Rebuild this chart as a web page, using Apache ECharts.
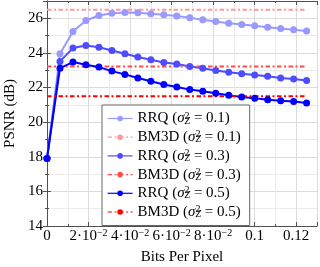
<!DOCTYPE html>
<html>
<head>
<meta charset="utf-8">
<script src="https://cdn.jsdelivr.net/npm/echarts@6/dist/echarts.min.js"></script>
<style>html,body{margin:0;padding:0;background:#fff;}#c{width:320px;height:267px;}</style>
</head>
<body>
<div id="c"></div>
<script>
// ---- data ----
const bits = [0, 0.00625, 0.0125, 0.01875, 0.025, 0.03125, 0.0375, 0.04375, 0.05, 0.05625, 0.0625, 0.06875, 0.075, 0.08125, 0.0875, 0.09375, 0.1, 0.10625, 0.1125, 0.11875, 0.125];
const rrq01 = [17.9, 23.95, 25.24, 25.87, 26.16, 26.29, 26.33, 26.32, 26.26, 26.20, 26.14, 26.03, 25.91, 25.82, 25.72, 25.64, 25.57, 25.49, 25.41, 25.34, 25.26];
const rrq03 = [17.9, 23.51, 24.28, 24.43, 24.33, 24.14, 23.95, 23.76, 23.61, 23.45, 23.36, 23.22, 23.11, 22.99, 22.89, 22.80, 22.72, 22.65, 22.55, 22.49, 22.41];
const rrq05 = [17.9, 23.12, 23.47, 23.32, 23.18, 22.95, 22.76, 22.55, 22.36, 22.18, 22.03, 21.88, 21.78, 21.67, 21.55, 21.45, 21.38, 21.30, 21.24, 21.19, 21.11];
const bm3d01 = 26.5;
const bm3d03 = 23.22;
const bm3d05 = 21.5;
const bm3dRange = [0, 0.125];
const sigmas = ['0.1', '0.3', '0.5'];
const xTickText = ['0', '2·10{e|−2}', '4·10{e|−2}', '6·10{e|−2}', '8·10{e|−2}', '0.1', '0.12'];
const yTickText = ['14', '16', '18', '20', '22', '24', '26'];

const FONT = 'Liberation Serif';
const rrqColors = ['#9999ff', '#4d4dff', '#0000ff'];
const bmColors = ['#ff9999', '#ff4d4d', '#ff0000'];

function zip(xs, ys) { return xs.map((x, i) => [x, ys[i]]); }
const rrqData = [rrq01, rrq03, rrq05];
const bmVals = [bm3d01, bm3d03, bm3d05];

const series = [];
const legendNames = [];
for (let k = 0; k < 3; k++) {
  const rn = 'RRQ ' + sigmas[k];
  const bn = 'BM3D ' + sigmas[k];
  legendNames.push(rn, bn);
  series.push({
    name: rn, type: 'line', data: zip(bits, rrqData[k]),
    symbol: 'circle', symbolSize: 7, showSymbol: true,
    lineStyle: { color: rrqColors[k], width: 2 },
    itemStyle: { color: rrqColors[k] },
    animation: false
  });
  series.push({
    name: bn, type: 'line', data: bm3dRange.map(x => [x, bmVals[k]]),
    symbol: 'none', showSymbol: false,
    lineStyle: { color: bmColors[k], width: 2, type: [4.5, 2.5, 2, 2.5] },
    itemStyle: { color: bmColors[k] },
    animation: false
  });
}

const axisCommonX = { type: 'value', min: 0, max: 0.13, interval: 0.02 };
const axisCommonY = { type: 'value', min: 14, max: 27, interval: 2 };
const AX = '#505050';

const chart = echarts.init(document.getElementById('c'), null, { renderer: 'canvas' });
chart.setOption({
  animation: false,
  backgroundColor: '#fff',
  grid: { left: 47, right: 3, top: 1, bottom: 41, containLabel: false, outerBoundsMode: 'none' },
  xAxis: [
    Object.assign({}, axisCommonX, {
      position: 'bottom',
      name: 'Bits Per Pixel', nameLocation: 'middle', nameGap: 23.5,
      nameTextStyle: { fontFamily: FONT, fontSize: 15, color: '#000' },
      axisLine: { show: true, lineStyle: { color: AX, width: 1 } },
      axisTick: { show: true, inside: true, length: 4, lineStyle: { color: AX } },
      minorTick: { show: true, splitNumber: 2, length: 2, lineStyle: { color: AX } },
      splitLine: { show: true, lineStyle: { color: '#dcdcdc', width: 1 } },
      minorSplitLine: { show: true, lineStyle: { color: '#ebebeb', width: 1 } },
      axisLabel: {
        show: true, margin: 2, fontFamily: FONT, fontSize: 15, color: '#000', lineHeight: 17,
        showMaxLabel: false, hideOverlap: false,
        formatter: function (v, i) { return xTickText[Math.round(v / 0.02)]; },
        rich: { e: { fontFamily: FONT, fontSize: 10, lineHeight: 10, verticalAlign: 'top', color: '#000' } }
      }
    }),
    Object.assign({}, axisCommonX, {
      position: 'top',
      axisLine: { show: true, lineStyle: { color: AX, width: 1 } },
      axisTick: { show: true, inside: true, length: 4, lineStyle: { color: AX } },
      minorTick: { show: true, splitNumber: 2, length: 2, lineStyle: { color: AX } },
      splitLine: { show: false },
      axisLabel: { show: false }
    })
  ],
  yAxis: [
    Object.assign({}, axisCommonY, {
      position: 'left',
      name: 'PSNR (dB)', nameLocation: 'middle', nameGap: 27.5, nameRotate: 90,
      nameTextStyle: { fontFamily: FONT, fontSize: 15, color: '#000' },
      axisLine: { show: true, lineStyle: { color: AX, width: 1 } },
      axisTick: { show: true, inside: true, length: 4, lineStyle: { color: AX } },
      minorTick: { show: true, splitNumber: 2, length: 2, lineStyle: { color: AX } },
      splitLine: { show: true, lineStyle: { color: '#dcdcdc', width: 1 } },
      minorSplitLine: { show: true, lineStyle: { color: '#ebebeb', width: 1 } },
      axisLabel: {
        show: true, margin: 4, fontFamily: FONT, fontSize: 15, color: '#000',
        showMaxLabel: false,
        formatter: function (v) { return yTickText[Math.round((v - 14) / 2)]; }
      }
    }),
    Object.assign({}, axisCommonY, {
      position: 'right',
      axisLine: { show: true, lineStyle: { color: AX, width: 1 } },
      axisTick: { show: true, inside: true, length: 4, lineStyle: { color: AX } },
      minorTick: { show: true, splitNumber: 2, length: 2, lineStyle: { color: AX } },
      splitLine: { show: false },
      axisLabel: { show: false }
    })
  ],
  legend: {
    show: true, orient: 'vertical', left: 102, top: 105,
    data: legendNames,
    itemWidth: 25, itemHeight: 7, itemGap: 3.7, itemTextGap: 5,
    padding: [6, 9, 6, 5],
    backgroundColor: '#fff', borderColor: '#666', borderWidth: 1, borderRadius: 0,
    lineStyle: { width: 1.2 },
    selectedMode: false,
    textStyle: {
      fontFamily: FONT, fontSize: 15, color: '#000', lineHeight: 15,
      rich: {
        i: { fontFamily: FONT, fontSize: 15, fontStyle: 'italic', lineHeight: 15, color: '#000' },
        sup: { fontFamily: FONT, fontSize: 10, lineHeight: 10, verticalAlign: 'top', width: 0, color: '#000' },
        sub: { fontFamily: FONT, fontSize: 10, fontStyle: 'italic', lineHeight: 10, verticalAlign: 'bottom', color: '#000' }
      }
    },
    formatter: function (name) {
      const parts = name.split(' ');
      return parts[0] + ' ({i|σ}{sup|2}{sub|Z} = ' + parts[1] + ')';
    }
  },
  series: series
});
</script>
</body>
</html>
